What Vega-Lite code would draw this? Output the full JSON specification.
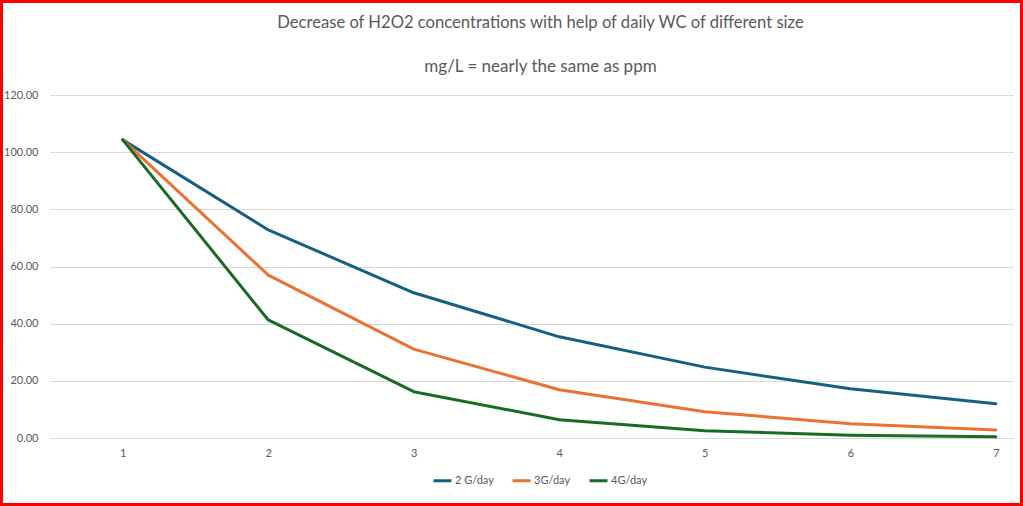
{
  "$schema": "https://vega.github.io/schema/vega-lite/v6.json",
  "width": 963,
  "height": 343,
  "autosize": {"type": "none"},
  "padding": {"left": 50, "top": 95, "right": 10, "bottom": 68},
  "background": "white",
  "title": {
    "text": "Decrease of H2O2 concentrations with help of daily WC of different size",
    "subtitle": "mg/L = nearly the same as ppm",
    "anchor": "middle",
    "dx": 9,
    "offset": -75,
    "font": "Lato",
    "fontSize": 16.6,
    "fontWeight": "normal",
    "color": "#595959",
    "subtitleFont": "Lato",
    "subtitleFontSize": 17,
    "subtitleColor": "#595959",
    "subtitlePadding": 27
  },
  "data": {
    "values": [
      {"day": 1, "series": "2 G/day", "value": 104.3},
      {"day": 2, "series": "2 G/day", "value": 72.8},
      {"day": 3, "series": "2 G/day", "value": 50.8},
      {"day": 4, "series": "2 G/day", "value": 35.4},
      {"day": 5, "series": "2 G/day", "value": 24.8},
      {"day": 6, "series": "2 G/day", "value": 17.2},
      {"day": 7, "series": "2 G/day", "value": 12.0},
      {"day": 1, "series": "3G/day", "value": 104.3},
      {"day": 2, "series": "3G/day", "value": 57.0},
      {"day": 3, "series": "3G/day", "value": 31.1},
      {"day": 4, "series": "3G/day", "value": 16.9},
      {"day": 5, "series": "3G/day", "value": 9.2},
      {"day": 6, "series": "3G/day", "value": 5.0},
      {"day": 7, "series": "3G/day", "value": 2.8},
      {"day": 1, "series": "4G/day", "value": 104.3},
      {"day": 2, "series": "4G/day", "value": 41.3},
      {"day": 3, "series": "4G/day", "value": 16.2},
      {"day": 4, "series": "4G/day", "value": 6.4},
      {"day": 5, "series": "4G/day", "value": 2.5},
      {"day": 6, "series": "4G/day", "value": 1.0},
      {"day": 7, "series": "4G/day", "value": 0.4}
    ]
  },
  "layer": [
    {
      "mark": {"type": "rect", "fill": null, "stroke": "#ff0000", "strokeWidth": 3, "clip": false},
      "encoding": {
        "x": {"datum": 0.1667, "type": "quantitative", "scale": {"domain": [0.5, 7.118]}},
        "x2": {"datum": 7.1766},
        "y": {"datum": 152.71, "type": "quantitative", "scale": {"domain": [0, 120]}},
        "y2": {"datum": -23.27}
      }
    },
    {
      "mark": {"type": "line", "strokeWidth": 3, "strokeCap": "round", "strokeJoin": "round", "clip": false},
      "encoding": {
        "x": {
          "field": "day",
          "type": "quantitative",
          "scale": {"domain": [0.5, 7.118], "nice": false, "zero": false},
          "axis": {
            "title": null,
            "values": [1, 2, 3, 4, 5, 6, 7],
            "format": "d",
            "grid": false,
            "ticks": false,
            "domain": false,
            "labelPadding": 9,
            "labelFont": "Lato",
            "labelFontSize": 11,
            "labelColor": "#595959"
          }
        },
        "y": {
          "field": "value",
          "type": "quantitative",
          "scale": {"domain": [0, 120], "nice": false},
          "axis": {
            "title": null,
            "values": [0, 20, 40, 60, 80, 100, 120],
            "format": ".2f",
            "grid": true,
            "gridColor": "#d9d9d9",
            "gridWidth": 1,
            "ticks": false,
            "domain": false,
            "labelPadding": 12,
            "labelFont": "Lato",
            "labelFontSize": 11,
            "labelColor": "#595959"
          }
        },
        "color": {
          "field": "series",
          "type": "nominal",
          "scale": {
            "domain": ["2 G/day", "3G/day", "4G/day"],
            "range": ["#156082", "#e97132", "#196b24"]
          },
          "legend": {
            "title": null,
            "orient": "none",
            "legendX": 382,
            "legendY": 375,
            "direction": "horizontal",
            "symbolType": "stroke",
            "symbolSize": 324,
            "symbolStrokeWidth": 3,
            "labelFont": "Lato",
            "labelFontSize": 11,
            "labelColor": "#595959",
            "labelOffset": 2,
            "columnPadding": 12
          }
        }
      }
    }
  ],
  "config": {
    "view": {"stroke": null}
  }
}
